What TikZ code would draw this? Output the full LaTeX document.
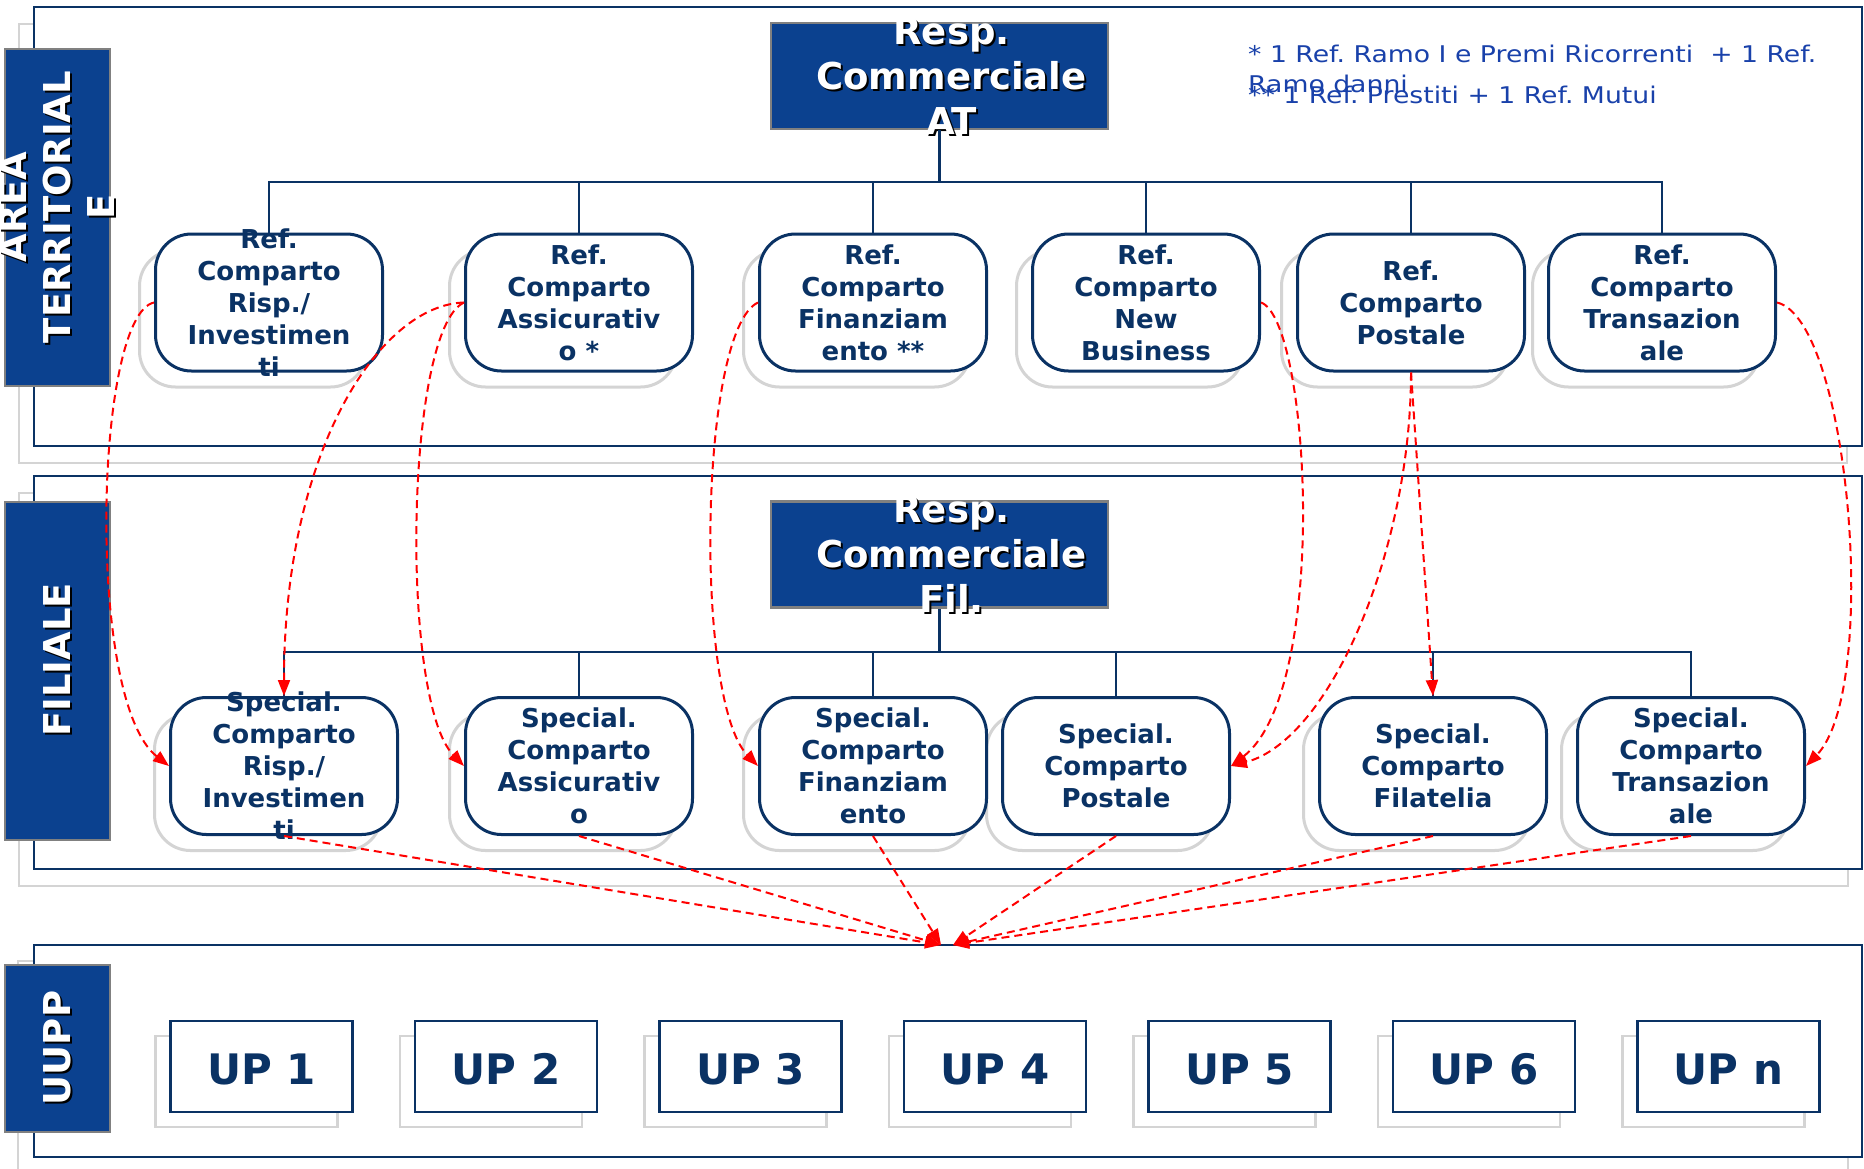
\documentclass[tikz,border=0pt]{standalone}
\usepackage{graphicx}
\usepackage{fontspec}
\setmainfont{DejaVu Sans}
\frenchspacing
\usetikzlibrary{arrows.meta}
\definecolor{navy}{RGB}{10,50,100}
\definecolor{boxblue}{RGB}{11,65,143}
\definecolor{noteblue}{RGB}{25,65,170}
\definecolor{shadowgray}{RGB}{212,212,212}
\definecolor{edgegray}{RGB}{128,128,128}
\begin{document}
\begin{tikzpicture}[x=1pt,y=-1pt,
  panel/.style={draw=navy, line width=2.5pt, fill=white},
  panelshadow/.style={draw=shadowgray, line width=2.5pt},
  sidebox/.style={draw=edgegray, line width=2.5pt, fill=boxblue, minimum width=105pt, inner sep=0pt},
  sidetext/.style={text=white, font=\fontsize{37}{44}\selectfont\bfseries, align=center, rotate=90, inner sep=0pt},
  respbox/.style={draw=edgegray, line width=2.5pt, fill=boxblue, minimum width=337pt, minimum height=106pt, inner sep=0pt},
  resptext/.style={text=white, font=\fontsize{37}{45}\selectfont\bfseries, align=center, inner sep=0pt},
  roundbox/.style={draw=navy, line width=3pt, fill=white, rounded corners=36pt, minimum width=227pt, minimum height=137pt, inner sep=0pt},
  roundshadow/.style={draw=shadowgray, line width=3pt, fill=white, rounded corners=36pt, minimum width=227pt, minimum height=137pt, inner sep=0pt},
  boxtext/.style={text=navy, font=\fontsize{26}{32}\selectfont\bfseries, align=center, inner sep=0pt},
  upbox/.style={draw=navy, line width=2.5pt, fill=white, minimum width=182pt, minimum height=91pt, inner sep=0pt},
  upshadow/.style={draw=shadowgray, line width=2.5pt, fill=white, minimum width=182pt, minimum height=91pt, inner sep=0pt},
  uptext/.style={text=navy, font=\fontsize{42}{50}\selectfont\bfseries, inner sep=0pt},
  note/.style={text=noteblue, font=\fontsize{23}{28}\selectfont, inner sep=0pt, anchor=base west},
  tree/.style={draw=navy, line width=2.2pt},
  redarrow/.style={draw=red, line width=2pt, dash pattern=on 8pt off 5pt, -{Triangle[length=16pt,width=12pt]}}
]
\useasboundingbox (0,0) rectangle (1864,1168);
\fill[white] (0,0) rectangle (1864,1168);

% three level frames with their grey shadows
\draw[panelshadow] (19,24) rectangle (1847,463);
\draw[panel] (34,7) rectangle (1862,446);
\draw[panelshadow] (19,493) rectangle (1848,886);
\draw[panel] (34,476) rectangle (1862,869);
\draw[panelshadow] (18,961) rectangle (1848,1180);
\draw[panel] (34,945) rectangle (1862,1157);
\coordinate (uTopL) at (941,945);
\coordinate (uTopR) at (953,945);

% side labels
\node[sidebox, minimum height=337pt] (sideA) at (57.5,217.5) {};
\node[sidetext, text=black] (sideAs) at (59.5,209) {AREA\\TERRITORIAL\\E};
\node[sidetext] (sideAt) at (57.5,207) {AREA\\TERRITORIAL\\E};
\node[sidebox, minimum height=338pt] (sideF) at (57.5,671) {};
\node[sidetext, text=black] (sideFs) at (59.5,662) {FILIALE};
\node[sidetext] (sideFt) at (57.5,660) {FILIALE};
\node[sidebox, minimum height=167pt] (sideU) at (57.5,1048.5) {};
\node[sidetext, text=black] (sideUs) at (59.5,1050) {UUPP};
\node[sidetext] (sideUt) at (57.5,1048) {UUPP};

% heads of the two levels
\node[respbox] (respAT) at (939.5,76) {};
\node[resptext, text=black] (respATs) at (953.5,78) {Resp.\\Commerciale\\AT};
\node[resptext] (respATt) at (951.5,76) {Resp.\\Commerciale\\AT};
\node[respbox] (respFil) at (939.5,554.5) {};
\node[resptext, text=black] (respFils) at (953.5,556.5) {Resp.\\Commerciale\\Fil.};
\node[resptext] (respFilt) at (951.5,554.5) {Resp.\\Commerciale\\Fil.};

% notes
\node[note] (note1a) at (1248,62) {\scalebox{1.16}[1]{* 1 Ref. Ramo I e Premi Ricorrenti~~+ 1 Ref.}};
\node[note] (note1b) at (1248,92) {\scalebox{1.16}[1]{Ramo danni}};
\node[note] (note2) at (1248,103) {\scalebox{1.16}[1]{** 1 Ref. Prestiti + 1 Ref. Mutui}};

% area referents
\foreach \n/\x in {1/269,2/579,3/873,4/1146,5/1411,6/1662} {
  \node[roundshadow] (r\n s) at (\x-16,318.5) {};
}
\coordinate (busAT) at (939.5,182);
\draw[tree] (respAT.south) -- (busAT);
\foreach \n/\x/\t in {
  1/269/{Ref.\\Comparto\\Risp./\\Investimen\\ti},
  2/579/{Ref.\\Comparto\\Assicurativ\\o *},
  3/873/{Ref.\\Comparto\\Finanziam\\ento **},
  4/1146/{Ref.\\Comparto\\New\\Business},
  5/1411/{Ref.\\Comparto\\Postale},
  6/1662/{Ref.\\Comparto\\Transazion\\ale}} {
  \node[roundbox] (r\n) at (\x,302.5) {};
  \node[boxtext] (r\n t) at (r\n.center) {\t};
}
\draw[tree] (r1.north) -- (r1.north |- busAT) -- (r6.north |- busAT) -- (r6.north);
\foreach \n in {2,3,4,5} \draw[tree] (r\n.north) -- (r\n.north |- busAT);

% branch specialists
\foreach \n/\x in {1/284,2/579,3/873,4/1116,5/1433,6/1691} {
  \node[roundshadow] (s\n s) at (\x-16,782) {};
}
\coordinate (busFil) at (939.5,652);
\draw[tree] (respFil.south) -- (busFil);
\foreach \n/\x/\t in {
  1/284/{Special.\\Comparto\\Risp./\\Investimen\\ti},
  2/579/{Special.\\Comparto\\Assicurativ\\o},
  3/873/{Special.\\Comparto\\Finanziam\\ento},
  4/1116/{Special.\\Comparto\\Postale},
  5/1433/{Special.\\Comparto\\Filatelia},
  6/1691/{Special.\\Comparto\\Transazion\\ale}} {
  \node[roundbox] (s\n) at (\x,766) {};
  \node[boxtext] (s\n t) at (s\n.center) {\t};
}
\draw[tree] (s1.north) -- (s1.north |- busFil) -- (s6.north |- busFil) -- (s6.north);
\foreach \n in {2,3,4,5} \draw[tree] (s\n.north) -- (s\n.north |- busFil);

% production units
\foreach \n/\x/\t in {1/261.5/UP 1,2/506/UP 2,3/750.5/UP 3,4/995/UP 4,5/1239.5/UP 5,6/1484/UP 6,7/1728.5/UP n} {
  \node[upshadow] (u\n s) at (\x-15,1081.5) {};
  \node[upbox] (u\n) at (\x,1066.5) {};
  \node[uptext] (u\n t) at ([yshift=-3pt]u\n.center) {\t};
}

% functional links
\draw[redarrow] (r1.west) .. controls (95,315) and (85,700) .. (s1.west);
\draw[redarrow] (r2.west) .. controls (380,305) and (284,450) .. (s1.north);
\draw[redarrow] (r2.west) .. controls (405,330) and (400,700) .. (s2.west);
\draw[redarrow] (r3.west) .. controls (699,330) and (694,700) .. (s3.west);
\draw[redarrow] (r4.east) .. controls (1310,320) and (1330,690) .. (s4.east);
\draw[redarrow] (r5.south) .. controls (1411,550) and (1330,740) .. (s4.east);
\draw[redarrow] (r5.south) -- (s5.north);
\draw[redarrow] (r6.east) .. controls (1850,320) and (1880,690) .. (s6.east);

\draw[redarrow] (s1.south) -- (uTopL);
\draw[redarrow] (s2.south) -- (uTopL);
\draw[redarrow] (s3.south) -- (uTopL);
\draw[redarrow] (s4.south) -- (uTopR);
\draw[redarrow] (s5.south) -- (uTopR);
\draw[redarrow] (s6.south) -- (uTopR);
\end{tikzpicture}
\end{document}
